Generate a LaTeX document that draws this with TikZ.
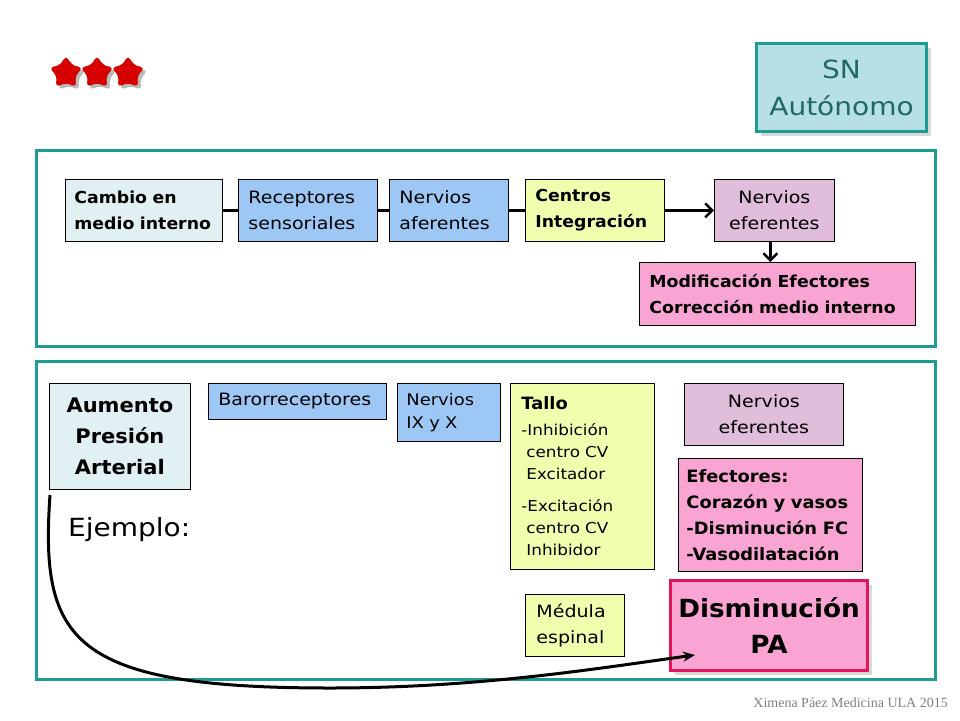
\documentclass[tikz,border=0pt]{standalone}
\usepackage{fontspec}
\setmainfont{DejaVu Sans}[UprightFeatures={FakeStretch=1.12},BoldFeatures={FakeStretch=1.05}]
\newfontfamily\footfont{Liberation Serif}
\usetikzlibrary{arrows.meta,shadows,shapes.geometric}
\definecolor{tealb}{RGB}{30,155,146}
\definecolor{snfill}{RGB}{183,224,228}
\definecolor{sntext}{RGB}{31,105,96}
\definecolor{cyanl}{RGB}{225,241,243}
\definecolor{bluef}{RGB}{157,200,246}
\definecolor{yelf}{RGB}{239,255,173}
\definecolor{purf}{RGB}{224,189,219}
\definecolor{pinkf}{RGB}{249,164,211}
\definecolor{crim}{RGB}{226,20,92}
\definecolor{redst}{RGB}{215,0,0}
\tikzset{
  panel/.style={draw=tealb, line width=3pt, anchor=north west, inner sep=0pt},
  box/.style={draw=black, line width=0.8pt, anchor=north west, inner sep=0pt,
    font=\fontsize{17}{26}\selectfont},
  bbox/.style={box, font=\bfseries\fontsize{16.5}{26}\selectfont},
  conn/.style={line width=3pt},
  arr/.style={line width=3pt, -{Straight Barb[length=7pt,width=14pt,line width=2.5pt]}},
  curvearr/.style={line width=3pt, -{Stealth[length=12pt,width=10pt]}},
  astr/.pic={
    \fill[gray!55, rounded corners=5pt, shift={(3,3)}]
      (-90:18) -- (-54:9.5) -- (-18:18) -- (18:9.5) -- (54:18) -- (90:9.5) -- (126:18) -- (162:9.5) -- (198:18) -- (234:9.5) -- cycle;
    \fill[redst, rounded corners=5pt]
      (-90:18) -- (-54:9.5) -- (-18:18) -- (18:9.5) -- (54:18) -- (90:9.5) -- (126:18) -- (162:9.5) -- (198:18) -- (234:9.5) -- cycle;
  }
}
\begin{document}
\begin{tikzpicture}[x=1pt,y=-1pt]
\useasboundingbox (0,0) rectangle (960,720);
% title stars
\pic at (66,73) {astr};
\pic at (97,73) {astr};
\pic at (128,73) {astr};
% SN box
\node[draw=tealb, line width=3pt, fill=snfill, anchor=north west, minimum width=170pt, minimum height=88pt,
  inner sep=0pt, align=center, text=sntext, font=\fontsize{25}{37}\selectfont,
  drop shadow={shadow xshift=4pt, shadow yshift=-4pt, fill=gray!60}] (sn) at (755,42) {SN\\Autónomo};
% panels
\node[panel, minimum width=899pt, minimum height=196pt] (p1) at (35,149) {};
\node[panel, minimum width=899pt, minimum height=318pt] (p2) at (35,360) {};
% top row
\node[bbox, fill=cyanl, minimum width=157pt, minimum height=62pt, text width=139pt, align=left] (c1) at (65,179) {Cambio en\\medio interno};
\node[box, fill=bluef, minimum width=139pt, minimum height=62pt, text width=119pt, align=left] (c2) at (238,179) {Receptores\\sensoriales};
\node[box, fill=bluef, minimum width=119pt, minimum height=62pt, text width=99pt, align=left] (c3) at (389,179) {Nervios\\aferentes};
\node[bbox, fill=yelf, minimum width=139pt, minimum height=62pt, text width=119pt, align=left] (c4) at (525,179) {Centros\\Integración};
\node[box, fill=purf, minimum width=120pt, minimum height=62pt, align=center] (c5) at (714,179) {Nervios\\eferentes};
\node[bbox, fill=pinkf, minimum width=276pt, minimum height=63pt, text width=256pt, align=left] (c6) at (639,262) {Modificación Efectores\\Corrección medio interno};
\draw[conn] (c1.east) -- (c2.west);
\draw[conn] (c2.east) -- (c3.west);
\draw[conn] (c3.east) -- (c4.west);
\draw[arr] (c4.east) -- (c5.west);
\draw[arr] ([xshift=-4pt]c5.south) -- ([xshift=-4pt]c5.south |- c6.north);
% bottom
\node[box, fill=cyanl, minimum width=141pt, minimum height=106pt, align=center, font=\bfseries\fontsize{20}{31}\selectfont] (b1) at (49,383) {Aumento\\Presión\\Arterial};
\node[box, fill=bluef, minimum width=178pt, minimum height=36pt, text width=158pt, align=left] (b2) at (208,383) {Barorreceptores};
\node[box, fill=bluef, minimum width=103pt, minimum height=58pt, text width=85pt, align=left, font=\fontsize{16}{23}\selectfont] (b3) at (397,383) {Nervios\\IX y X};
\node[box, fill=yelf, minimum width=144pt, minimum height=186pt, text width=122pt, align=left, font=\fontsize{15}{22}\selectfont] (b4) at (510,383) {\textbf{\fontsize{17}{22}\selectfont Tallo}\\[4pt]-Inhibición\\\ centro CV\\\ Excitador\\[10pt]-Excitación\\\ centro CV\\\ Inhibidor};
\node[box, fill=purf, minimum width=159pt, minimum height=62pt, align=center] (b5) at (684,383) {Nervios\\eferentes};
\node[box, fill=pinkf, minimum width=184pt, minimum height=113pt, text width=168pt, align=left, font=\bfseries\fontsize{17}{26}\selectfont] (b6) at (678,458) {Efectores:\\Corazón y vasos\\-Disminución FC\\-Vasodilatación};
\node[box, fill=yelf, minimum width=99pt, minimum height=62pt, text width=77pt, align=left] (b7) at (525,594) {Médula\\espinal};
\node[box, draw=crim, line width=3pt, fill=pinkf, minimum width=197pt, minimum height=90pt, align=center,
  font=\bfseries\fontsize{25}{36}\selectfont,
  drop shadow={shadow xshift=4pt, shadow yshift=-4pt, fill=gray!60}] (b8) at (669,579) {Disminución\\PA};
\node[anchor=west, inner sep=0pt, font=\fontsize{25}{32}\selectfont] (ej) at (68,530) {Ejemplo:};
\coordinate (cs) at (50,495);
\draw[curvearr] (cs) .. controls (40,640) and (70,688) .. (330,688)
  .. controls (480,688) and (600,668) .. ([xshift=26pt,yshift=17pt]b8.south west);
% footer
\node[anchor=east, inner sep=0pt, text=gray, font=\footfont\fontsize{14}{16}\selectfont] (ft) at (948,703) {Ximena Páez Medicina ULA 2015};
\end{tikzpicture}
\end{document}
